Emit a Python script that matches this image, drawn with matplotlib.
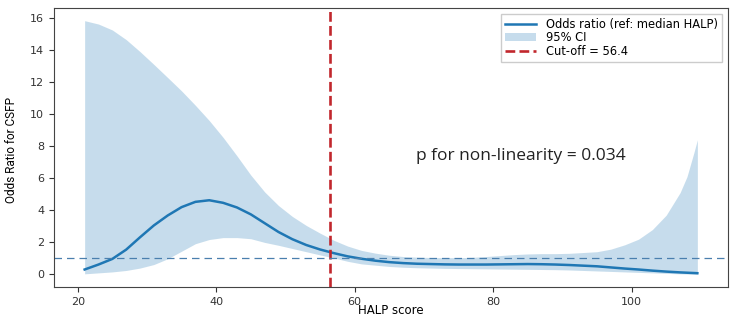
import matplotlib
matplotlib.use("Agg")
import matplotlib.pyplot as plt

halp = [21, 23, 25, 27, 29, 31, 33, 35, 37, 39, 41, 43, 45, 47, 49, 51, 53, 55, 57, 59,
        61, 63, 65, 67, 69, 71, 73, 75, 77, 79, 81, 83, 85, 87, 89, 91, 93, 95, 97, 99,
        101, 103, 105, 107, 108, 109, 109.5]
odds_ratio = [0.31, 0.62, 0.97, 1.55, 2.32, 3.06, 3.68, 4.2, 4.53, 4.63, 4.47, 4.18, 3.75,
              3.2, 2.65, 2.2, 1.84, 1.56, 1.33, 1.13, 0.98, 0.86, 0.77, 0.71, 0.67, 0.65,
              0.63, 0.62, 0.62, 0.62, 0.63, 0.64, 0.65, 0.64, 0.62, 0.59, 0.55, 0.51, 0.44,
              0.37, 0.31, 0.24, 0.18, 0.13, 0.11, 0.09, 0.08]
ci_upper = [15.83, 15.62, 15.25, 14.65, 13.9, 13.1, 12.28, 11.45, 10.55, 9.6, 8.55, 7.4, 6.2,
            5.15, 4.3, 3.62, 3.06, 2.58, 2.13, 1.77, 1.5, 1.33, 1.2, 1.12, 1.08, 1.06, 1.05,
            1.05, 1.07, 1.12, 1.18, 1.24, 1.28, 1.3, 1.3, 1.32, 1.37, 1.42, 1.58, 1.85, 2.2,
            2.8, 3.7, 5.1, 6.1, 7.6, 8.4]
ci_lower = [0.04, 0.1, 0.16, 0.25, 0.4, 0.62, 0.98, 1.45, 1.92, 2.18, 2.3, 2.3, 2.23, 2.0,
            1.82, 1.62, 1.42, 1.22, 1.03, 0.82, 0.66, 0.58, 0.5, 0.45, 0.42, 0.4, 0.38, 0.37,
            0.36, 0.35, 0.34, 0.33, 0.32, 0.31, 0.3, 0.28, 0.25, 0.22, 0.19, 0.16, 0.13, 0.1,
            0.07, 0.04, 0.03, 0.02, 0.01]
cutoff = 56.4
reference = 1.0
p_text = "p for non-linearity = 0.034"
x_ticks = [20, 40, 60, 80, 100]
y_ticks = [0, 2, 4, 6, 8, 10, 12, 14, 16]

fig = plt.figure(figsize=(7.34, 3.19), dpi=100)
ax = fig.add_axes([54/734, 1 - 287/319, (728-54)/734, (287-8)/319])

ax.plot(halp, odds_ratio, color="#1f77b4", lw=1.8, label="Odds ratio (ref: median HALP)")
ax.fill_between(halp, ci_lower, ci_upper, color="#1f77b4", alpha=0.25, lw=0, label="95% CI")
ax.axvline(cutoff, color="#c1272d", ls="--", lw=1.9, label=f"Cut-off = {cutoff}")
ax.axhline(reference, color="#4a7fae", lw=0.9, ls=(0, (6, 4)))

ax.text(84, 7.4, p_text, ha="center", va="center", fontsize=12.5,
        family=["Open Sans", "DejaVu Sans"], color="#222222")

ax.set_xlabel("HALP score", fontsize=8.5)
ax.xaxis.set_label_coords(0.5, -0.062)
ax.set_ylabel("Odds Ratio for CSFP", fontsize=8.5, family=["Roboto", "DejaVu Sans"])
ax.yaxis.set_label_coords(-0.053, 0.49)
ax.set_xticks(x_ticks)
ax.set_yticks(y_ticks)
ax.tick_params(labelsize=8, length=3.5, colors="#333333")
for s in ax.spines.values():
    s.set_color("#444444")
ax.legend(loc="upper right", fontsize=8.3, frameon=True, fancybox=False, framealpha=1,
          edgecolor="#cccccc", borderpad=0.35, labelspacing=0.05, handlelength=2.7,
          handletextpad=0.9)

fig.savefig("out.png", dpi=100)
